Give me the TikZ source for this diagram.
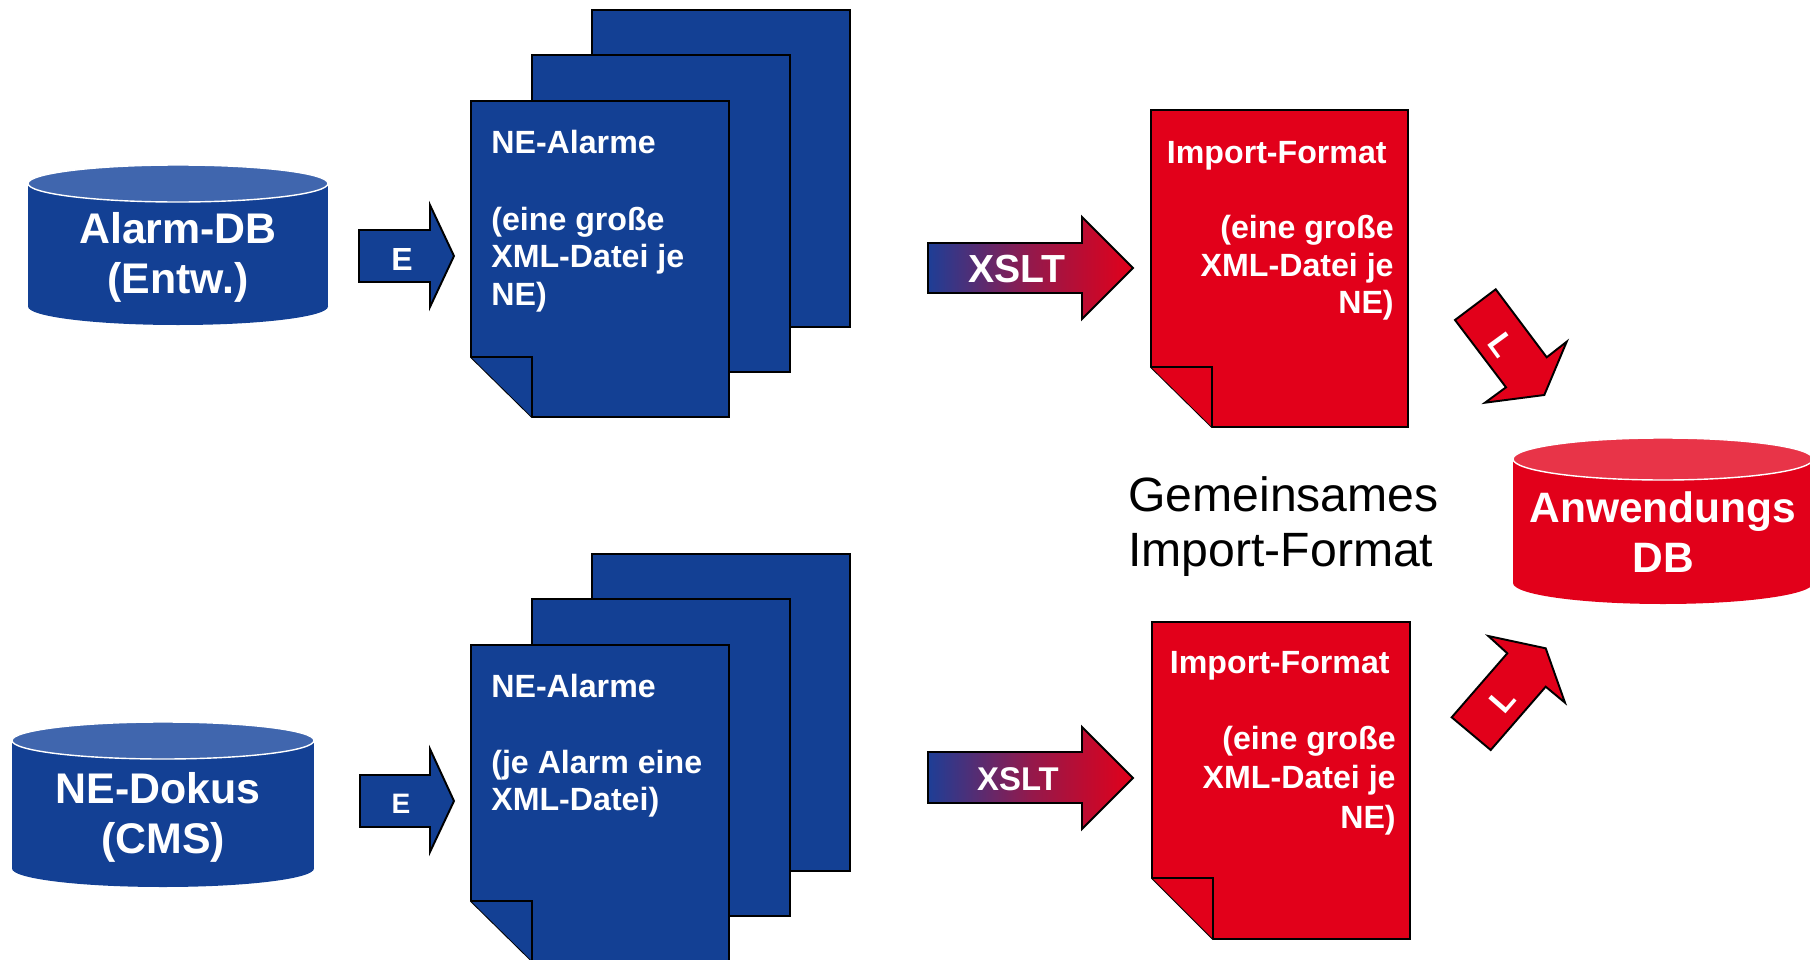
\documentclass[tikz,border=0pt]{standalone}
\usepackage{fontspec}
\setmainfont{Liberation Sans}
\definecolor{blueX}{RGB}{19,64,148}
\definecolor{blueL}{RGB}{64,102,174}
\definecolor{redX}{RGB}{226,0,26}
\definecolor{redL}{RGB}{232,52,72}
\definecolor{gblue}{RGB}{30,62,150}
\newcommand\fpx[1]{\fontsize{#1}{#1}\selectfont}
\tikzset{
  outl/.style={draw=black, line width=1.1pt, line join=miter},
  bpage/.style={outl, fill=blueX},
  rpage/.style={outl, fill=redX},
  wtxt/.style={text=white, font=\bfseries, inner sep=0pt},
  cyltxt/.style={wtxt, font=\fpx{24.4pt}\bfseries, anchor=base},
  pgtxt/.style={wtxt, font=\fpx{18.3pt}\bfseries, anchor=base west},
  rtxt/.style={wtxt, font=\fpx{18.3pt}\bfseries, anchor=base east},
  grad/.style={outl, left color=gblue, right color=redX, middle color=redX!60!gblue},
}
\begin{document}
\begin{tikzpicture}[x=0.02cm, y=-0.02cm]
\useasboundingbox (0,0) rectangle (1810,960);

% ---- cylinder Alarm-DB
\fill[blueX] (28,183.5) rectangle (328,306.5);
\fill[blueX] (178,306.5) ellipse [x radius=150, y radius=18.5];
\draw[white, line width=0.8pt, fill=blueL] (178,183.5) ellipse [x radius=150, y radius=18.5];
\node[cyltxt] (c1a) at (178,243) {Alarm-DB};
\node[cyltxt] (c1b) at (178,293) {(Entw.)};

% ---- cylinder NE-Dokus
\fill[blueX] (12,740.5) rectangle (314,868.5);
\fill[blueX] (163,868.5) ellipse [x radius=151, y radius=18.5];
\draw[white, line width=0.8pt, fill=blueL] (163,740.5) ellipse [x radius=151, y radius=18.5];
\node[cyltxt] (c2a) at (158,803) {NE-Dokus};
\node[cyltxt] (c2b) at (163,853) {(CMS)};

% ---- E arrows
\draw[outl, fill=blueX] (359,230) -- (430,230) -- (430,205) -- (454,256) -- (430,307) -- (430,282) -- (359,282) -- cycle;
\node[wtxt, font=\fpx{18.2pt}\bfseries, anchor=base] (e1) at (402,270) {E};
\draw[outl, fill=blueX] (360,775) -- (430,775) -- (430,749) -- (454,801) -- (430,852) -- (430,827) -- (360,827) -- cycle;
\node[wtxt, font=\fpx{16pt}\bfseries, anchor=base] (e2) at (401,813) {E};

% ---- top blue stack
\draw[bpage] (592,10) rectangle (850,327);
\draw[bpage] (532,55) rectangle (790,372);
\draw[bpage] (471,101) -- (729,101) -- (729,417) -- (532,417) -- (471,357) -- cycle;
\draw[bpage] (471,357) -- (532,357) -- (532,417);
\node[pgtxt] (p1a) at (491,153) {NE-Alarme};
\node[pgtxt] (p1b) at (491,230) {(eine große};
\node[pgtxt] (p1c) at (491,267) {XML-Datei je};
\node[pgtxt] (p1d) at (491,305) {NE)};

% ---- bottom blue stack
\draw[bpage] (592,554) rectangle (850,871);
\draw[bpage] (532,599) rectangle (790,916);
\draw[bpage] (471,645) -- (729,645) -- (729,961) -- (532,961) -- (471,901) -- cycle;
\draw[bpage] (471,901) -- (532,901) -- (532,961);
\node[pgtxt] (p2a) at (491,697) {NE-Alarme};
\node[pgtxt] (p2b) at (491,773) {(je Alarm eine};
\node[pgtxt] (p2c) at (491,810) {XML-Datei)};

% ---- XSLT arrows
\draw[grad] (928,243) -- (1082,243) -- (1082,217) -- (1133,268) -- (1082,319) -- (1082,293) -- (928,293) -- cycle;
\node[wtxt, font=\fpx{22.3pt}\bfseries, anchor=base] (x1) at (1017,282) {XSLT};
\draw[grad] (928,752) -- (1082,752) -- (1082,727) -- (1133,778) -- (1082,829) -- (1082,803) -- (928,803) -- cycle;
\node[wtxt, font=\fpx{18.7pt}\bfseries, anchor=base] (x2) at (1018,790) {XSLT};

% ---- red pages
\draw[rpage] (1151,110) -- (1408,110) -- (1408,427) -- (1212,427) -- (1151,367) -- cycle;
\draw[rpage] (1151,367) -- (1212,367) -- (1212,427);
\node[rtxt] (r1a) at (1387,163) {Import-Format};
\node[rtxt] (r1b) at (1394,238) {(eine große};
\node[rtxt] (r1c) at (1394,276) {XML-Datei je};
\node[rtxt] (r1d) at (1394,313) {NE)};

\draw[rpage] (1152,622) -- (1410,622) -- (1410,939) -- (1213,939) -- (1152,878) -- cycle;
\draw[rpage] (1152,878) -- (1213,878) -- (1213,939);
\node[rtxt] (r2a) at (1390,673) {Import-Format};
\node[rtxt] (r2b) at (1396,749) {(eine große};
\node[rtxt] (r2c) at (1396,788) {XML-Datei je};
\node[rtxt] (r2d) at (1396,828) {NE)};

% ---- label
\node[inner sep=0pt, anchor=base west, font=\fpx{27.4pt}] (g1) at (1128,511) {Gemeinsames};
\node[inner sep=0pt, anchor=base west, font=\fpx{27.4pt}] (g2) at (1128,566) {Import-Format};

% ---- L arrows
\draw[outl, fill=redX] (1455,320) -- (1495.7,289.3) -- (1546.7,357.3) -- (1566.7,341.7) -- (1544.3,395) -- (1485,402.7) -- (1506,387.3) -- cycle;
\node[wtxt, font=\fpx{18.8pt}\bfseries, rotate=-54] (l1) at (1502,345) {L};
\draw[outl, fill=redX] (1490.7,750) -- (1451.7,717.3) -- (1507.3,653.3) -- (1488.3,636) -- (1545.7,648.3) -- (1565,702.7) -- (1545.7,686.7) -- cycle;
\node[wtxt, font=\fpx{18.8pt}\bfseries, rotate=49] (l2) at (1503,700) {L};

% ---- Anwendungs DB
\fill[redX] (1513,459) rectangle (1813,583);
\fill[redX] (1663,583) ellipse [x radius=150, y radius=21];
\draw[white, line width=0.8pt, fill=redL] (1663,459) ellipse [x radius=150, y radius=21];
\node[cyltxt, font=\fpx{24.2pt}\bfseries] (a1) at (1663,522) {Anwendungs};
\node[cyltxt, font=\fpx{24.2pt}\bfseries] (a2) at (1663,572) {DB};
\end{tikzpicture}
\end{document}
